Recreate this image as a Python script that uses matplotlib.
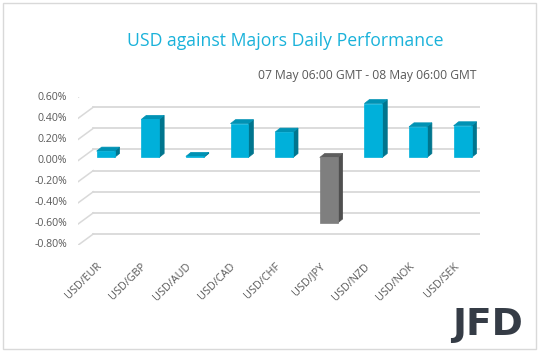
import matplotlib.pyplot as plt
import matplotlib.transforms as mtransforms
import numpy as np
from matplotlib.patches import Polygon, Rectangle

# daily change of USD against each major, in percent
pairs = ["USD/EUR", "USD/GBP", "USD/AUD", "USD/CAD", "USD/CHF",
         "USD/JPY", "USD/NZD", "USD/NOK", "USD/SEK"]
changes = [0.06, 0.36, 0.01, 0.32, 0.24, -0.62, 0.51, 0.29, 0.30]
yticks = [0.6, 0.4, 0.2, 0.0, -0.2, -0.4, -0.6, -0.8]
ytick_labels = ["0.60%", "0.40%", "0.20%", "0.00%",
                "-0.20%", "-0.40%", "-0.60%", "-0.80%"]

plt.rcParams['font.family'] = ['Open Sans', 'DejaVu Sans']

fig = plt.figure(figsize=(5.38, 3.51), dpi=100)
ax = fig.add_axes([0.1455, 0.302, 0.7465, 0.4215])
ax.set_xlim(-0.5, len(pairs) - 0.5)
ax.set_ylim(-0.8, 0.6)
ax.axis('off')

grid_col = '#D9D9D9'
txt_col = '#595959'
wall = np.array([15, 11])    # back wall offset, px
bar_off = np.array([5, 3])   # bars sit a bit behind the front plane
depth = np.array([5, 4])     # bar depth, px
width = 0.4
ident = mtransforms.IdentityTransform()


def px(x, y):
    return ax.transData.transform((x, y))


def shift(dx, dy):
    return ax.transData + mtransforms.ScaledTranslation(dx / 100, dy / 100, fig.dpi_scale_trans)


# back wall gridlines + the slanted floor/side lines
for t, lab in zip(yticks, ytick_labels):
    ax.plot([-0.5, len(pairs) - 0.5], [t, t], color=grid_col, lw=1.3,
            transform=shift(*wall), zorder=1)
    p = px(-0.5, t)
    ax.add_line(plt.Line2D([p[0], p[0] + wall[0]], [p[1], p[1] + wall[1]],
                           color=grid_col, lw=1.1, transform=ident, zorder=1))
    ax.text(-0.5, t, lab, transform=shift(-11, 0), ha='right', va='center',
            fontsize=7.6, color=txt_col)

# 3D-looking columns
for i, v in enumerate(changes):
    if v >= 0:
        front, side, top = '#00B0DA', '#00758E', '#0092B4'
    else:
        front, side, top = '#7F7F7F', '#4F4F4F', '#5E5E5E'
    x0, x1 = i - width / 2, i + width / 2
    a = px(x0, 0) + bar_off
    b = px(x1, 0) + bar_off
    c = px(x1, v) + bar_off
    d = px(x0, v) + bar_off
    ytop = max(v, 0)
    tl = px(x0, ytop) + bar_off
    tr = px(x1, ytop) + bar_off
    ax.add_patch(Polygon([b, c, c + depth, b + depth], closed=True, fc=side,
                         ec=side, lw=0.5, transform=ident, zorder=3))
    ax.add_patch(Polygon([tl, tr, tr + depth, tl + depth], closed=True, fc=top,
                         ec=top, lw=0.5, transform=ident, zorder=3))
    ax.add_patch(Polygon([a, b, c, d], closed=True, fc=front, ec=front,
                         lw=0.5, transform=ident, zorder=4))

# category labels
for i, lab in enumerate(pairs):
    ax.text(i, -0.8, lab, transform=shift(3.5, -16), rotation=45,
            ha='right', va='top', fontsize=7.8, color=txt_col)

fig.text(285 / 538, 1 - 45.7 / 351, "USD against Majors Daily Performance",
         ha='center', va='baseline', fontsize=12.7, color='#1AB2DA')
fig.text(477 / 538, 1 - 78.5 / 351, "07 May 06:00 GMT - 08 May 06:00 GMT",
         ha='right', va='baseline', fontsize=8.7, color=txt_col)

# logo
fig.text(487.5 / 538, 1 - 335 / 351, "JFD", ha='center', va='baseline',
         fontsize=27, fontweight='bold', color='#353C46', family='DejaVu Sans')

# outer frame
fig.patches.append(Rectangle((2.5 / 538, 2.5 / 351), 533 / 538, 346 / 351,
                             transform=fig.transFigure, fill=False,
                             ec='#D9D9D9', lw=1.0))

fig.savefig("out.png", dpi=100)
